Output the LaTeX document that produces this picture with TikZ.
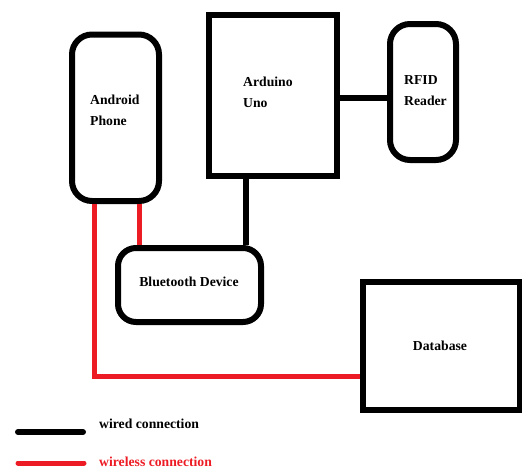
\documentclass[tikz,border=0pt]{standalone}
\usepackage{fontspec}
\setmainfont{Liberation Serif}
\usepackage{tikz}
\usetikzlibrary{positioning}
\definecolor{wirelessred}{HTML}{ED1C24}
\tikzset{
unit/.style = {draw, line width=6pt, inner sep=0pt, fill=white},
rnd/.style = {unit, rounded corners=#1},
rnd/.default = 20pt, % corner radius of the rounded boxes
lbl/.style = {font=\bfseries\fontsize{13.7}{21}\selectfont, align=left, inner sep=0pt},
wired/.style = {line width=6pt},
wireless/.style = {line width=5pt, draw=wirelessred}
}
\newcommand{\wired}[2]{\draw[wired] (#1) -- (#2);}
\newcommand{\wireless}[2]{\draw[wireless] (#1) -- (#2);}

\begin{document}
\begin{tikzpicture}[x=1pt,y=-1pt]
        \useasboundingbox (0,0) rectangle (522,469);
        % boxes
        \node[rnd, minimum width=87pt, minimum height=166.5pt] (phone) at (115.5,117.75) {};
        \node[unit, minimum width=128pt, minimum height=161pt] (arduino) at (273,95.5) {};
        \node[rnd, minimum width=66pt, minimum height=136pt] (rfid) at (423,92) {};
        \node[rnd=18pt, minimum width=143pt, minimum height=74pt] (bt) at (189.5,285) {};
        \node[unit, minimum width=157pt, minimum height=128pt] (db) at (441.5,346) {};
        % texts
        \node[lbl, anchor=west] (phonetxt) at (90,110) {Android\\Phone};
        \node[lbl, anchor=west] (arduinotxt) at (243,92) {Arduino\\Uno};
        \node[lbl, anchor=west] (rfidtxt) at (404,91) {RFID\\Reader};
        \node[lbl] (bttxt) at (189,282) {Bluetooth Device};
        \node[lbl] (dbtxt) at (440,346) {Database};
        % connections
        \wired{[yshift=-2.5pt]arduino.east}{[yshift=-2.5pt]arduino.east -| rfid.west}
        \wired{[xshift=-27pt]arduino.south}{[xshift=-27pt]arduino.south |- bt.north}
        \wireless{[xshift=23.5pt]phone.south}{[xshift=23.5pt]phone.south |- bt.north}
        \draw[wireless] ([xshift=-21.5pt]phone.south) |- ([yshift=-30pt]db.west);
        % legend
        \coordinate (wiredA) at (18,432);
        \coordinate (wiredB) at (83,432);
        \coordinate (wirelessA) at (18,463);
        \coordinate (wirelessB) at (84,463);
        \draw[wired, line cap=round] (wiredA) -- (wiredB);
        \draw[wireless, line cap=round] (wirelessA) -- (wirelessB);
        \node[lbl, anchor=west] (wiredtxt) at (99,424) {wired connection};
        \node[lbl, anchor=west, text=wirelessred] (wirelesstxt) at (99,462) {wireless connection};
\end{tikzpicture}
\end{document}
